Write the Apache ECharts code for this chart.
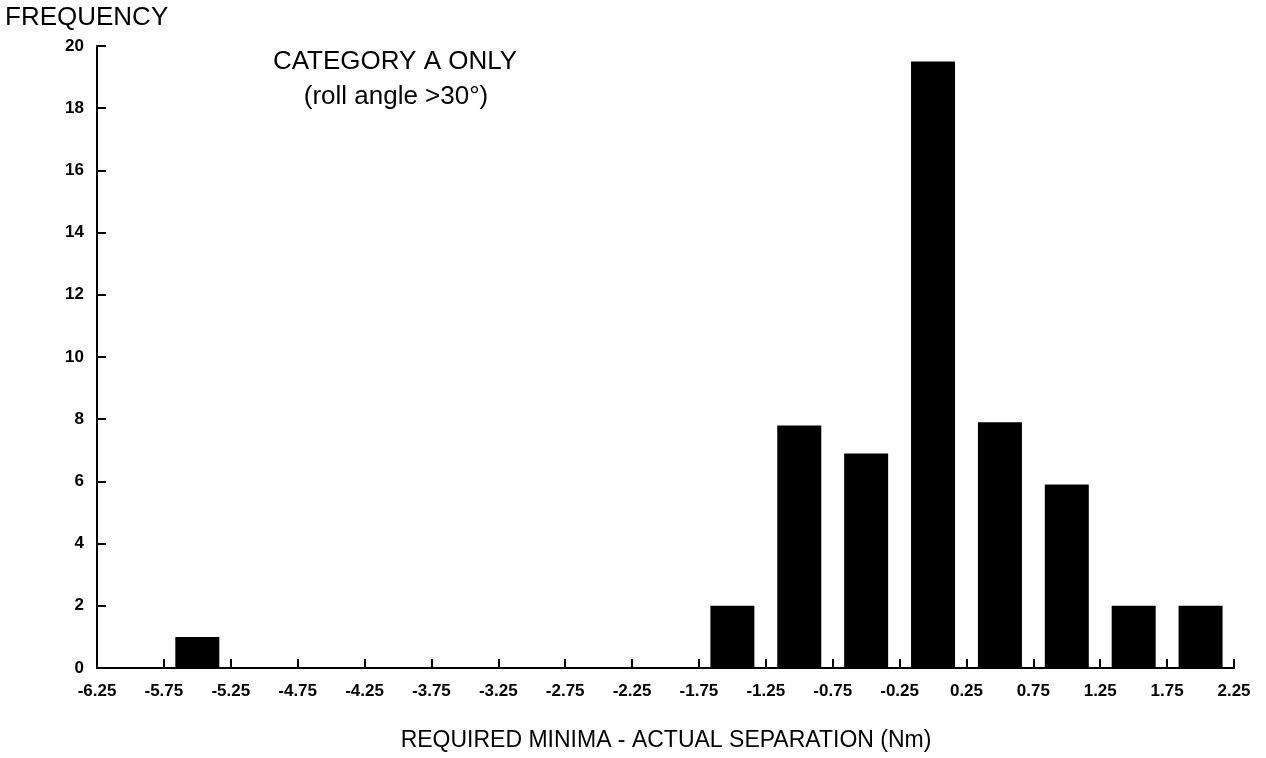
<!DOCTYPE html>
<html>
<head>
<meta charset="utf-8">
<script src="https://cdn.jsdelivr.net/npm/echarts@6/dist/echarts.min.js"></script>
<style>html,body{margin:0;padding:0;background:#fff}#c{width:1266px;height:758px}</style>
</head>
<body>
<div id="c"></div>
<script>
// Bin centres (Nm) and frequencies
const binCenters = [-5.5, -1.5, -1.0, -0.5, 0.0, 0.5, 1.0, 1.5, 2.0];
const frequencies = [1, 2, 7.8, 6.9, 19.5, 7.9, 5.9, 2, 2];
const xMin = -6.25, xMax = 2.25, xStep = 0.5;
const yMin = 0, yMax = 20, yStep = 2;
const yTitle = 'FREQUENCY';
const xTitle = 'REQUIRED MINIMA - ACTUAL SEPARATION (Nm)';
const noteLines = ['CATEGORY A ONLY', '(roll angle >30°)'];

const font = 'Liberation Sans, Arial, Helvetica, sans-serif';
const chart = echarts.init(document.getElementById('c'), null, {renderer: 'canvas'});
chart.setOption({
  animation: false,
  backgroundColor: '#fff',
  grid: {left: 97, right: 32, top: 46, bottom: 90, containLabel: false, outerBoundsMode: 'none'},
  xAxis: {
    type: 'value', min: xMin, max: xMax, interval: xStep,
    axisLine: {show: true, onZero: false, lineStyle: {color: '#000', width: 2}},
    axisTick: {show: true, inside: true, length: 9, lineStyle: {color: '#000', width: 2}},
    splitLine: {show: false},
    axisLabel: {color: '#000', fontFamily: font, fontSize: 17, fontWeight: 'bold', margin: 15,
      showMinLabel: true, showMaxLabel: true,
      formatter: v => v.toFixed(2)}
  },
  yAxis: {
    type: 'value', min: yMin, max: yMax, interval: yStep,
    axisLine: {show: true, onZero: false, lineStyle: {color: '#000', width: 2}},
    axisTick: {show: true, inside: true, length: 9, lineStyle: {color: '#000', width: 2}},
    splitLine: {show: false},
    axisLabel: {color: '#000', fontFamily: font, fontSize: 17, fontWeight: 'bold', margin: 13}
  },
  graphic: [
    {type: 'text', left: 5, top: 5, style: {text: yTitle, font: '26px ' + font, fill: '#000'}},
    {type: 'text', x: 395, y: 62, style: {text: noteLines[0], font: '26px ' + font, fill: '#000', align: 'center', verticalAlign: 'middle'}},
    {type: 'text', x: 396, y: 97, style: {text: noteLines[1], font: '26px ' + font, fill: '#000', align: 'center', verticalAlign: 'middle'}},
    {type: 'text', x: 666, y: 741, style: {text: xTitle, font: '23px ' + font, fill: '#000', align: 'center', verticalAlign: 'middle'}}
  ],
  series: [{
    type: 'bar',
    data: binCenters.map((x, i) => [x, frequencies[i]]),
    barWidth: 44,
    itemStyle: {color: '#000'},
    z: 1
  }]
});
</script>
</body>
</html>
